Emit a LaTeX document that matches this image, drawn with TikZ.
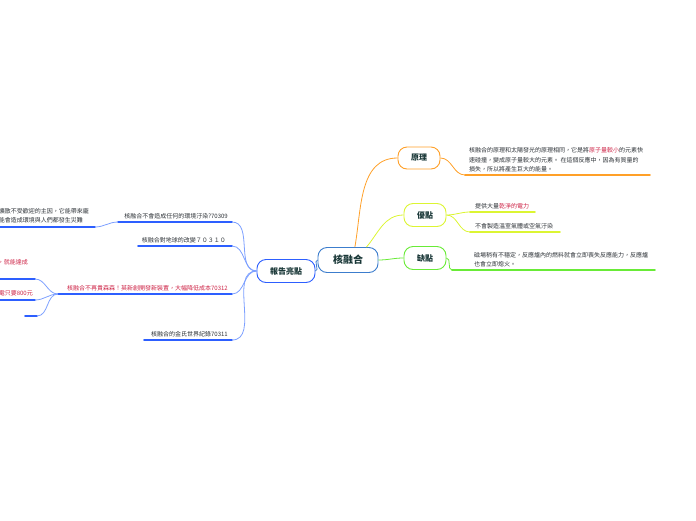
\documentclass[tikz,border=0pt]{standalone}
\usepackage{fontspec}
\setmainfont{Noto Sans CJK TC}
\usepackage{xcolor}
\usepackage{tikz}
\usetikzlibrary{positioning, calc}
\definecolor{rootcol}{RGB}{60,125,205}
\definecolor{reportcol}{RGB}{45,95,255}
\definecolor{twigcol}{RGB}{125,160,255}
\definecolor{principlecol}{RGB}{255,160,40}
\definecolor{proscol}{RGB}{220,245,50}
\definecolor{conscol}{RGB}{105,235,55}
\definecolor{hotcol}{RGB}{205,35,70}
\definecolor{inkcol}{RGB}{45,50,55}
\definecolor{titlecol}{RGB}{25,55,55}

\begin{document}
\begin{tikzpicture}[
    x=1pt, y=-1pt,
    %% ── Base node style ──
    topic/.style={
        rectangle, draw, line width=0.9pt, rounded corners=9pt, fill=white,
        align=center, text=titlecol, inner sep=2pt,
        font=\fontsize{8}{9}\selectfont\bfseries
    },
    %% ── Specialized styles ──
    rootbox/.style={topic, draw=rootcol, minimum width=60pt, minimum height=25pt,
        font=\fontsize{10}{11}\selectfont\bfseries},
    reportbox/.style={topic, draw=reportcol, minimum width=58pt, minimum height=23pt},
    principlebox/.style={topic, draw=principlecol, minimum width=42pt, minimum height=22pt},
    prosbox/.style={topic, draw=proscol, minimum width=42pt, minimum height=23pt},
    consbox/.style={topic, draw=conscol, minimum width=42pt, minimum height=23pt},
    %% ── Leaf texts ──
    leaf/.style={inner sep=1pt, align=left, text=inkcol,
        font=\fontsize{6}{9.2}\selectfont},
    hot/.style={leaf, text=hotcol},
    %% ── Lines ──
    uline/.style={line width=1.7pt, line cap=round},
    twig/.style={line width=0.8pt},
]

\useasboundingbox (0,0) rectangle (696,520);

% ── Main topics ──
\node[rootbox]      (root)      at (348,260) {核融合};
\node[reportbox]    (report)    at (286,271) {報告亮點};
\node[principlebox] (principle) at (419,158) {原理};
\node[prosbox]      (pros)      at (425,215) {優點};
\node[consbox]      (cons)      at (425,258) {缺點};

\draw[twig, rootcol]      (root.west) to[out=180,in=0] (report.east);
\draw[twig, principlecol] (root.62) to[out=80,in=180] (principle.west);
\draw[twig, proscol]      (root.35) to[out=50,in=180] (pros.west);
\draw[twig, conscol]      (root.east) to[out=0,in=180] (cons.west);

% ── 原理 ──
\coordinate (p1a) at (465,175); \coordinate (p1b) at (650,175);
\draw[uline, principlecol] (p1a) -- (p1b);
\draw[twig, principlecol] (principle.east) to[out=0,in=180] (p1a);
\node[leaf, anchor=south west] (p1) at (468,173)
    {核融合的原理和太陽發光的原理相同，它是將\textcolor{hotcol}{原子量較小}的元素快\\
     速碰撞，變成原子量較大的元素。 在這個反應中，因為有質量的\\
     損失，所以將產生巨大的能量。};

% ── 優點 ──
\coordinate (q1a) at (470,212); \coordinate (q1b) at (535,212);
\coordinate (q2a) at (470,232); \coordinate (q2b) at (560,232);
\draw[uline, proscol] (q1a) -- (q1b);
\draw[uline, proscol] (q2a) -- (q2b);
\draw[twig, proscol] (pros.east) to[out=0,in=180] (q1a);
\draw[twig, proscol] (pros.east) to[out=0,in=180] (q2a);
\node[leaf, anchor=south west] (q1) at (474,210) {提供大量\textcolor{hotcol}{乾淨的電力}};
\node[leaf, anchor=south west] (q2) at (474,230) {不會製造溫室氣體或空氣汙染};

% ── 缺點 ──
\coordinate (r1a) at (452,270); \coordinate (r1b) at (655,270);
\draw[uline, conscol] (r1a) -- (r1b);
\draw[twig, conscol] (cons.east) to[out=0,in=180] (r1a);
\node[leaf, anchor=south west] (r1) at (473,268)
    {磁場稍有不穩定，反應爐內的燃料就會立即喪失反應能力，反應爐\\
     也會立即熄火。};

% ── 報告亮點 · branches ──
\coordinate (b1a) at (118,222); \coordinate (b1b) at (232,222);
\coordinate (b2a) at (138,246); \coordinate (b2b) at (232,246);
\coordinate (b3a) at (58,294);  \coordinate (b3b) at (232,294);
\coordinate (b4a) at (144,340); \coordinate (b4b) at (232,340);
\foreach \b in {b1,b2,b3,b4}{
    \draw[uline, reportcol] (\b a) -- (\b b);
    \draw[twig, twigcol] (report.west) to[out=180,in=0] (\b b);
}
\node[leaf, anchor=south east] (b1) at (229,220) {核融合不會造成任何的環境汙染?70309};
\node[leaf, anchor=south east] (b2) at (227,244) {核融合對地球的改變７０３１０};
\node[hot,  anchor=south east] (b3) at (229,292) {核融合不再貴森森！英新創開發新裝置，大幅降低成本70312};
\node[leaf, anchor=south east] (b4) at (229,338) {核融合的金氏世界紀錄70311};

% ── second level (cut off at the left edge) ──
\coordinate (c1a) at (-10,227); \coordinate (c1b) at (95,227);
\draw[uline, reportcol] (c1a) -- (c1b);
\draw[twig, twigcol] (b1a) to[out=180,in=0] (c1b);
\node[leaf, anchor=south east] (c1) at (90,224)
    {核擴散不受歡迎的主因，它能帶來龐\\可能會造成環境與人們都發生災難};

\coordinate (d1a) at (-10,279); \coordinate (d1b) at (35,279);
\coordinate (d2a) at (-10,300); \coordinate (d2b) at (35,300);
\coordinate (d3a) at (25,316);  \coordinate (d3b) at (37,316);
\foreach \d in {d1,d2,d3}{
    \draw[uline, reportcol] (\d a) -- (\d b);
    \draw[twig, twigcol] (b3a) to[out=180,in=0] (\d b);
}
\node[hot, anchor=east] (d1) at (29,262) {，就能達成};
\node[hot, anchor=south east] (d2) at (34,297) {發電只要800元};

\end{tikzpicture}
\end{document}
